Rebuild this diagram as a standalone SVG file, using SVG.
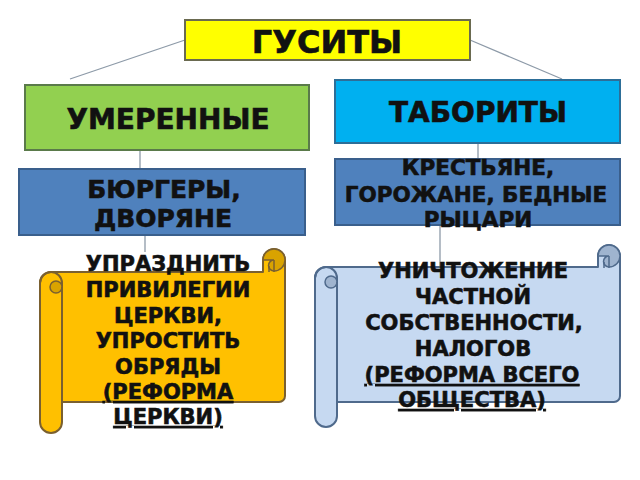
<svg xmlns="http://www.w3.org/2000/svg" width="640" height="480" viewBox="0 0 640 480">
<style>
text{font-family:"DejaVu Sans","Noto Sans",sans-serif;font-weight:bold;fill:#111;stroke:#111;stroke-width:0.6;text-anchor:middle}
.t{font-size:32px}
.h{font-size:28px}
.m{font-size:25px}
.r{font-size:21.5px}
.s{font-size:21px}
.u{text-decoration:underline}
.con{stroke:#8d9aa8;stroke-width:1.3;fill:none}
</style>
<rect width="640" height="480" fill="#ffffff"/>
<g id="connectors">
<line class="con" x1="185" y1="40" x2="70" y2="79"/>
<line class="con" x1="470" y1="40" x2="562" y2="79"/>
<line class="con" x1="140" y1="150" x2="140" y2="169"/>
<line class="con" x1="145" y1="235" x2="145" y2="252"/>
<line class="con" x1="478" y1="143" x2="478" y2="159"/>
<line class="con" x1="440" y1="225" x2="440" y2="268"/>
</g>
<g id="husites">
<rect x="185" y="20" width="285" height="40" fill="#ffff00" stroke="#6a6a50" stroke-width="2"/>
<text class="t" x="327" y="53">ГУСИТЫ</text>
</g>
<g id="moderate">
<rect x="25" y="85" width="284" height="65" fill="#92d050" stroke="#5a7a4a" stroke-width="2"/>
<text class="h" x="168" y="129">УМЕРЕННЫЕ</text>
</g>
<g id="taborites">
<rect x="335" y="80" width="285" height="63" fill="#00b0f0" stroke="#2d6e98" stroke-width="2"/>
<text class="h" x="478" y="122">ТАБОРИТЫ</text>
</g>
<g id="burghers">
<rect x="19" y="169" width="286" height="66" fill="#4f81bd" stroke="#3a5f8c" stroke-width="2"/>
<text class="m" x="164" y="198">БЮРГЕРЫ,</text>
<text class="m" x="163" y="227">ДВОРЯНЕ</text>
</g>
<g id="peasants">
<rect x="335" y="159" width="285" height="66" fill="#4f81bd" stroke="#3a5f8c" stroke-width="2"/>
<text class="r" x="478" y="175">КРЕСТЬЯНЕ,</text>
<text class="r" x="476" y="202">ГОРОЖАНЕ, БЕДНЫЕ</text>
<text class="r" x="478" y="227">РЫЦАРИ</text>
</g>
<g id="scroll-left">
<path d="M51,272 H263 V260 A11,11 0 0 1 285,260 V396 A6,6 0 0 1 279,402 H62 V422 A11,11 0 0 1 40,422 V283 A11,11 0 0 1 51,272 Z" fill="#ffc000" stroke="#7a6030" stroke-width="2" stroke-linejoin="round"/>
<path d="M263,260 A11,11 0 0 1 285,260 A11,11 0 0 1 274,271 A5.5,5.5 0 0 1 274,260 Z" fill="#d9a300" stroke="#7a6030" stroke-width="1.5"/>
<path d="M274,260 V272 M269,266 V272" fill="none" stroke="#7a6030" stroke-width="1.5"/>
<path d="M40,283 A11,11 0 0 1 62,283 V300" fill="none" stroke="#7a6030" stroke-width="2"/>
<circle cx="56" cy="287" r="6" fill="#d9a300" stroke="#7a6030" stroke-width="1.5"/>
<path d="M62,287 V402" fill="none" stroke="#7a6030" stroke-width="2"/>
<text class="s" x="168" y="271">УПРАЗДНИТЬ</text>
<text class="s" x="168" y="297">ПРИВИЛЕГИИ</text>
<text class="s" x="168" y="323">ЦЕРКВИ,</text>
<text class="s" x="168" y="348">УПРОСТИТЬ</text>
<text class="s" x="168" y="374">ОБРЯДЫ</text>
<text class="s u" x="168" y="399">(РЕФОРМА</text>
<text class="s u" x="168" y="424">ЦЕРКВИ)</text>
</g>
<g id="scroll-right">
<path d="M326,267 H598 V256 A11,11 0 0 1 620,256 V396 A6,6 0 0 1 614,402 H337 V416 A11,11 0 0 1 315,416 V278 A11,11 0 0 1 326,267 Z" fill="#c6d9f1" stroke="#4f6a8c" stroke-width="2" stroke-linejoin="round"/>
<path d="M598,256 A11,11 0 0 1 620,256 A11,11 0 0 1 609,267 A5.5,5.5 0 0 1 609,256 Z" fill="#9fb4cf" stroke="#4f6a8c" stroke-width="1.5"/>
<path d="M609,256 V268 M604,262 V268" fill="none" stroke="#4f6a8c" stroke-width="1.5"/>
<path d="M315,278 A11,11 0 0 1 337,278 V295" fill="none" stroke="#4f6a8c" stroke-width="2"/>
<circle cx="331" cy="282" r="6" fill="#9fb4cf" stroke="#4f6a8c" stroke-width="1.5"/>
<path d="M337,282 V402" fill="none" stroke="#4f6a8c" stroke-width="2"/>
<text class="s" x="473" y="278">УНИЧТОЖЕНИЕ</text>
<text class="s" x="473" y="304">ЧАСТНОЙ</text>
<text class="s" x="474" y="330">СОБСТВЕННОСТИ,</text>
<text class="s" x="473" y="356">НАЛОГОВ</text>
<text class="s u" x="472" y="382">(РЕФОРМА ВСЕГО</text>
<text class="s u" x="472" y="407">ОБЩЕСТВА)</text>
</g>
</svg>
